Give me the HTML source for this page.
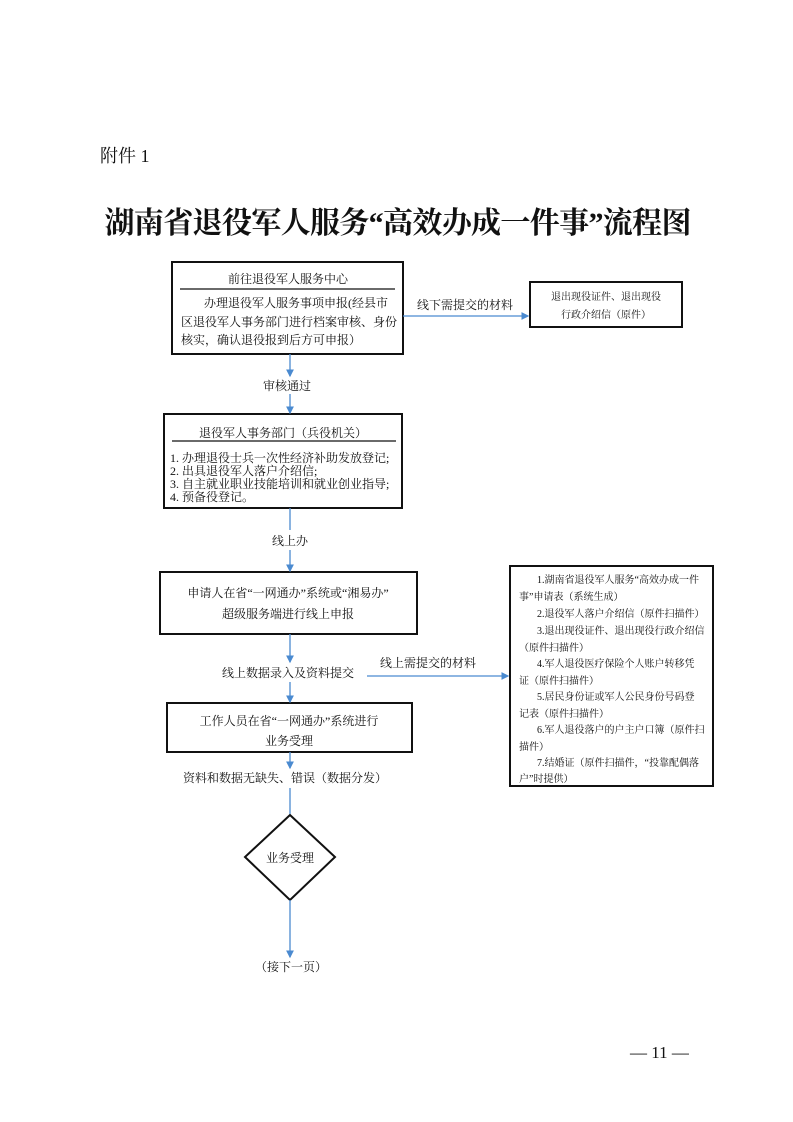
<!DOCTYPE html>
<html><head><meta charset="utf-8"><style>
html,body{margin:0;padding:0;background:#fff}
svg{display:block}
text{font-family:"Liberation Serif","Noto Serif CJK SC","Noto Sans CJK SC",serif;fill:#111}
</style></head><body>
<svg width="793" height="1122" viewBox="0 0 793 1122" xmlns="http://www.w3.org/2000/svg">
<defs><marker id="a" markerWidth="6" markerHeight="6" refX="5" refY="3" orient="auto"><path d="M0,0 L6,3 L0,6 z" fill="#4a8ad0"/></marker></defs>
<text x="100" y="162" font-size="18">附件 1</text>
<text x="398" y="233" font-size="30" font-weight="bold" text-anchor="middle" textLength="587">湖南省退役军人服务“高效办成一件事”流程图</text>

<g fill="none" stroke="#111" stroke-width="2">
<rect x="172" y="262" width="231" height="92"/>
<rect x="530" y="282" width="152" height="45"/>
<rect x="164" y="414" width="238" height="94"/>
<rect x="160" y="572" width="257" height="62"/>
<rect x="167" y="703" width="245" height="49"/>
<rect x="510" y="566" width="203" height="220"/>
<polygon points="290,815 335,857 290,900 245,857"/>
</g>
<g stroke="#111" stroke-width="1.3"><line x1="180" y1="289" x2="395" y2="289"/><line x1="172" y1="441" x2="396" y2="441"/></g>

<g stroke="#4a8ad0" stroke-width="1.3" fill="none">
<line x1="403" y1="316" x2="528" y2="316" marker-end="url(#a)"/>
<line x1="290" y1="354" x2="290" y2="376" marker-end="url(#a)"/>
<line x1="290" y1="394" x2="290" y2="413" marker-end="url(#a)"/>
<line x1="290" y1="508" x2="290" y2="530"/>
<line x1="290" y1="550" x2="290" y2="571" marker-end="url(#a)"/>
<line x1="290" y1="634" x2="290" y2="662" marker-end="url(#a)"/>
<line x1="290" y1="682" x2="290" y2="702" marker-end="url(#a)"/>
<line x1="367" y1="676" x2="508" y2="676" marker-end="url(#a)"/>
<line x1="290" y1="752" x2="290" y2="768" marker-end="url(#a)"/>
<line x1="290" y1="788" x2="290" y2="814"/>
<line x1="290" y1="900" x2="290" y2="957" marker-end="url(#a)"/>
</g>

<g font-size="12">
<text x="288" y="283" text-anchor="middle">前往退役军人服务中心</text>
<text x="204" y="307">办理退役军人服务事项申报(经县市</text>
<text x="181" y="326">区退役军人事务部门进行档案审核、身份</text>
<text x="181" y="344">核实，确认退役报到后方可申报）</text>
<text x="417" y="309">线下需提交的材料</text>
<text x="263" y="390">审核通过</text>
<text x="283" y="437" text-anchor="middle">退役军人事务部门（兵役机关）</text>
<text x="170" y="462">1. 办理退役士兵一次性经济补助发放登记;</text>
<text x="170" y="475">2. 出具退役军人落户介绍信;</text>
<text x="170" y="488">3. 自主就业职业技能培训和就业创业指导;</text>
<text x="170" y="501">4. 预备役登记。</text>
<text x="272" y="545">线上办</text>
<text x="288" y="597" text-anchor="middle">申请人在省“一网通办”系统或“湘易办”</text>
<text x="288" y="618" text-anchor="middle">超级服务端进行线上申报</text>
<text x="222" y="677">线上数据录入及资料提交</text>
<text x="380" y="667">线上需提交的材料</text>
<text x="289" y="725" text-anchor="middle">工作人员在省“一网通办”系统进行</text>
<text x="289" y="745" text-anchor="middle">业务受理</text>
<text x="183" y="782">资料和数据无缺失、错误（数据分发）</text>
<text x="290" y="862" text-anchor="middle">业务受理</text>
<text x="255" y="971">（接下一页）</text>
</g>
<g font-size="10">
<text x="606" y="300" text-anchor="middle">退出现役证件、退出现役</text>
<text x="606" y="318" text-anchor="middle">行政介绍信（原件）</text>
<text x="537" y="583">1.湖南省退役军人服务“高效办成一件</text>
<text x="519" y="600">事”申请表（系统生成）</text>
<text x="537" y="617">2.退役军人落户介绍信（原件扫描件）</text>
<text x="537" y="634">3.退出现役证件、退出现役行政介绍信</text>
<text x="519" y="651">（原件扫描件）</text>
<text x="537" y="667">4.军人退役医疗保险个人账户转移凭</text>
<text x="519" y="684">证（原件扫描件）</text>
<text x="537" y="700">5.居民身份证或军人公民身份号码登</text>
<text x="519" y="717">记表（原件扫描件）</text>
<text x="537" y="733">6.军人退役落户的户主户口簿（原件扫</text>
<text x="519" y="750">描件）</text>
<text x="537" y="766">7.结婚证（原件扫描件，“投靠配偶落</text>
<text x="519" y="782">户”时提供）</text>
</g>
<text x="630" y="1058" font-size="17">— 11 —</text>
</svg>
</body></html>
